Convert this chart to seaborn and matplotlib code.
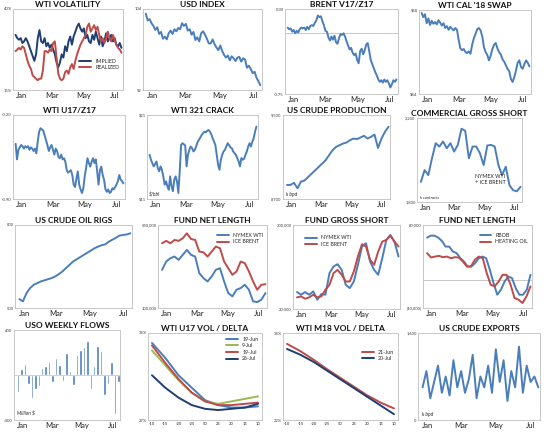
import numpy as np
import pandas as pd
import seaborn as sns
import matplotlib.pyplot as plt
import matplotlib.dates as mdates
from matplotlib.ticker import FuncFormatter

sns.set_style("white")
plt.rcParams['font.family'] = ['Lato', 'DejaVu Sans']

BLUE = "#4A7EBB"
RED = "#BE4B48"
NAVY = "#1F3F73"
GREEN = "#98B954"

# ---------------- data ----------------
wti_implied = [32, 31, 30.5, 31, 29.5, 30, 31, 30, 28.5,
               27, 25.5, 24, 26, 31, 33.5, 30, 29.5,
               31, 28.5, 29.5, 28, 29, 27.5, 26, 23.5,
               22, 23.5, 26, 25, 28.5, 27, 30, 31.5,
               29, 31.5, 33, 34.5, 35.5, 34, 33,
               34, 31, 32, 30, 29.5, 32, 30.5, 33,
               31, 29, 31.5, 28.5, 30, 32.5, 30, 31,
               32, 30, 31, 29, 28.5, 29.5, 28]
wti_realized = [27, 27.5, 28, 27.5, 28.5, 28, 26, 24, 22.5,
                21.5, 19.5, 19, 18.5, 18, 18.5, 18.5, 21,
                27, 27, 26.5, 27.5, 27, 29.5, 30, 25,
                20, 18.5, 18, 18.5, 20.5, 21, 20, 22,
                23, 21.5, 24, 26, 27.5, 29, 30,
                31, 32, 34.5, 35.5, 33, 34, 35, 33.5,
                34.5, 32, 30, 31, 29.5, 31, 33, 31,
                30, 32, 30.5, 29, 28, 27.5, 26.5]

usd_index = [103.3, 102.3, 102.5, 101.9, 101.5, 100.9, 101.3, 100.3, 100.6, 99.6,
             99.9, 99.5, 100.4, 100.8, 100.3, 101, 100.7, 101.2, 101, 101.9,
             101.5, 101.8, 100.8, 101, 100.2, 100.6, 99.4, 99.8, 99.2, 100.4,
             100.7, 100.2, 99.6, 98.9, 98.9, 99.5, 98.8, 98.3, 97.9, 98.6,
             97.8, 97.2, 96.8, 97.1, 96.4, 97, 96.7, 96.3, 96.8, 96.9,
             96.2, 96.7, 96.5, 95.3, 95.6, 95.1, 94.5, 94.7, 93.8, 93.3, 92.7]

brent_spread = [0.07, 0.05, 0.06, 0.02, 0.04, 0.0, 0.03, 0.01, 0.05, 0.07, 0.06, 0.07,
                0.04, 0.08, 0.05, 0.09, 0.10, 0.09, 0.13, 0.16, 0.22, 0.20, 0.21, 0.15,
                0.10, 0.03, 0.02, -0.05, -0.09, -0.04, -0.08, -0.03, -0.11, -0.13, -0.06,
                -0.01, -0.02, 0.0, -0.04, -0.10, -0.15, -0.20, -0.18, -0.24, -0.27, -0.25,
                -0.33, -0.37, -0.22, -0.19, -0.26, -0.21, -0.14, -0.12, -0.22, -0.33, -0.38,
                -0.43, -0.48, -0.52, -0.57, -0.60, -0.58, -0.61, -0.57, -0.60, -0.58, -0.62,
                -0.67, -0.63, -0.58, -0.60, -0.57]

cal18_swap = [57.5, 56.8, 57.3, 55.8, 56.6, 55.5, 56.2, 55.7, 56.0, 55.6, 56.3, 55.9,
              55.4, 55.8, 55.0, 55.3, 54.7, 55.2, 54.9, 54.6, 55.0, 54.7, 53.0, 51.6,
              51.3, 51.5, 51.0, 50.8, 51.1, 50.7, 52.2, 53.3, 54.0, 54.8, 55.0, 54.6,
              53.6, 51.8, 51.0, 50.5, 49.6, 50.4, 51.5, 52.2, 52.5, 51.6, 51.0, 50.6,
              49.8, 49.4, 48.8, 48.2, 47.8, 46.5, 46.0, 46.8, 47.9, 49.2, 49.6, 48.5,
              48.2, 49.0, 49.6, 49.2, 48.6]

wti_u17z17 = [-0.44, -0.57, -0.49, -0.47, -0.45, -0.46, -0.48, -0.46, -0.47, -0.46,
              -0.49, -0.47, -0.48, -0.50, -0.48, -0.52, -0.42, -0.34, -0.31, -0.32,
              -0.33, -0.37, -0.41, -0.45, -0.50, -0.47, -0.45, -0.49, -0.53, -0.48,
              -0.50, -0.55, -0.56, -0.53, -0.57, -0.56, -0.59, -0.66, -0.68, -0.67,
              -0.66, -0.70, -0.78, -0.80, -0.73, -0.67, -0.78, -0.82, -0.85, -0.81,
              -0.71, -0.64, -0.56, -0.60, -0.63, -0.59, -0.56, -0.60, -0.57, -0.67,
              -0.78, -0.66, -0.63, -0.70, -0.74, -0.82, -0.84, -0.82, -0.85, -0.84,
              -0.81, -0.82, -0.80, -0.78, -0.75, -0.70, -0.74, -0.75, -0.77]

wti_crack = [16.26, 15.67, 15.27, 14.88, 15.15, 15.47, 14.68, 14.29, 14.88, 14.48,
             13.69, 12.70, 13.10, 12.51, 12.11, 13.69, 12.51, 11.92, 13.30, 13.69,
             13.10, 11.72, 14.29, 17.44, 17.64, 17.52, 17.37, 14.88, 16.26, 16.85,
             17.25, 17.05, 16.66, 16.85, 17.25, 17.76, 18.04, 18.31, 18.63, 18.83,
             19.02, 18.94, 19.10, 19.22, 19.02, 18.71, 18.24, 17.84, 17.44, 16.26,
             15.07, 14.48, 15.67, 16.26, 16.66, 16.85, 17.25, 17.64, 17.44, 17.13,
             17.05, 16.66, 16.46, 16.26, 15.87, 15.47, 14.88, 15.87, 15.67, 15.79,
             16.26, 16.66, 17.25, 17.64, 17.25, 17.84, 18.24, 19.02, 19.62]

us_production = [8834, 8834, 8854, 8802, 8866, 8876, 8908, 8940, 8972, 9004,
                 9036, 9068, 9116, 9164, 9196, 9212, 9228, 9238, 9260, 9276,
                 9270, 9286, 9302, 9276, 9292, 9314, 9186, 9276, 9340, 9388]

comm_gross_short = [1896, 1952, 1928, 2008, 2080, 2064, 2088, 2056, 2080, 2040,
                    2072, 2149, 2139, 2008, 2064, 2064, 2032, 1976, 2069, 2072,
                    2064, 1976, 1928, 1968, 1880, 1856, 1851, 1872]

oil_rigs = [532, 524, 554, 572, 584, 590, 596, 600, 604, 608, 614, 622, 632, 644, 656, 668,
            676, 684, 692, 700, 708, 716, 722, 727, 730, 740, 747, 754, 762, 764, 766, 770]

net_wti = [307000, 352000, 370000, 379000, 361000, 388000, 415000, 388000, 379000, 289000,
           262000, 244000, 271000, 307000, 316000, 244000, 181000, 163000, 199000, 208000,
           226000, 199000, 136000, 132000, 145000, 181000]
net_brent = [451000, 464000, 451000, 469000, 464000, 478000, 505000, 474000, 469000, 406000,
             402000, 379000, 406000, 433000, 424000, 352000, 316000, 280000, 298000, 352000,
             343000, 298000, 244000, 199000, 226000, 229000]

short_wti = [56300, 50600, 56300, 50600, 57700, 39900, 52000, 50600, 96800, 111100,
             116000, 104000, 71900, 64800, 79000, 114600, 153800, 160900, 121700, 103900,
             93300, 128800, 168000, 178700, 164400, 132400]
short_brent = [44900, 47000, 42000, 44900, 50600, 44900, 47000, 61300, 71900, 96800,
               103900, 93300, 79000, 79000, 100400, 132400, 158700, 153800, 125300, 114600,
               143100, 164400, 168000, 177200, 164400, 153800]

net_rbob = [61800, 64600, 64600, 61800, 57000, 48800, 48800, 41600, 39200, 32000,
            27200, 20000, 20000, 24800, 32000, 34400, 32000, 15200, -4000, -20800,
            -13600, -1600, 5600, 3200, -11200, -20800, -20800, -13600, 8000]
net_ho = [39200, 33000, 34400, 35400, 33400, 34400, 32000, 33400, 33000, 27200,
          20000, 20000, 29600, 34400, 32000, 10400, -6400, -8800, -1600, 8000,
          8000, -6400, -25600, -28000, -32800, -23200, -8800]

uso_flows = [-150, 50, 100, -80, -200, -120, -100, 60, 80, 120, -60, 150, 90, -50, 200,
             40, -90, 180, 220, 250, 300, -120, 80, 260, 210, -180, -80, 120, -350, -60]

delta_labels = ["-10", "-15", "-20", "-25", "50", "25", "20", "15", "10"]
u17_19jun = [33.2, 32.0, 30.6, 29.6, 28.6, 28.2, 28.0, 28.0, 28.1]
u17_9jul = [32.6, 31.4, 30.2, 29.2, 28.5, 28.3, 28.5, 28.7, 28.9]
u17_19jul = [33.0, 31.6, 30.3, 29.2, 28.5, 28.2, 28.2, 28.3, 28.4]
u17_26jul = [30.6, 29.6, 28.8, 28.2, 27.9, 27.8, 27.9, 28.0, 28.3]

m18_labels = ["-10", "-15", "-20", "-25", "50", "25", "20", "15", "10"]
m18_21jun = [32.5, 31.5, 30.3, 29.0, 27.8, 26.6, 25.4, 24.4, 23.6]
m18_20jul = [31.8, 31.0, 30.0, 28.8, 27.6, 26.4, 25.2, 24.0, 22.8]

crude_exports = [600, 900, 400, 700, 1000, 500, 800, 450, 1100, 600, 900, 500, 750, 1200,
                 400, 800, 600, 1000, 500, 1300, 700, 1100, 350, 900, 600, 1350, 500, 1000,
                 700, 800, 600]

# ---------------- figure ----------------
W, H = 550, 436
fig = plt.figure(figsize=(W / 100, H / 100), dpi=100)
fig.patch.set_facecolor("white")


def add_panel(x0, y0, x1, y1):
    return fig.add_axes([x0 / W, 1 - y1 / H, (x1 - x0) / W, (y1 - y0) / H])


def style(ax, title, ylo, yhi, fmt):
    ax.set_ylim(ylo, yhi)
    ax.set_yticks([ylo, yhi])
    ax.yaxis.set_major_formatter(FuncFormatter(lambda v, p: fmt(v)))
    ax.tick_params(axis="y", labelsize=3, length=0, pad=1, colors="#404040")
    ax.tick_params(axis="x", labelsize=5.5, length=0, pad=1.5, colors="#222222")
    for s in ax.spines.values():
        s.set_color("#BFBFBF")
        s.set_linewidth(0.6)
    ax.set_xlabel("")
    ax.set_ylabel("")
    ax.set_title(title, fontsize=6, fontweight="bold", pad=1.5, color="#111111")
    if ax.get_legend() is not None:
        ax.get_legend().remove()


def date_axis(ax, start="2016-12-29", end="2017-07-31"):
    ax.set_xlim(pd.Timestamp(start), pd.Timestamp(end))
    ax.xaxis.set_major_locator(mdates.MonthLocator(bymonth=[1, 3, 5, 7], bymonthday=15))
    ax.xaxis.set_major_formatter(mdates.DateFormatter("%b"))


def days(n):
    return pd.date_range("2017-01-03", "2017-07-28", periods=n)


def weeks(n):
    return pd.date_range("2017-01-06", "2017-07-28", periods=n)


def line(ax, x, y, color, lw=1.4, label=None):
    sns.lineplot(x=x, y=y, ax=ax, color=color, linewidth=lw, label=label)


def legend(ax, loc, bbox):
    ax.legend(loc=loc, bbox_to_anchor=bbox, frameon=False, fontsize=3.8,
              handlelength=2.2, labelspacing=0.3, borderpad=0.2)


pct = lambda v: f"{v:.0f}%"
dollar = lambda v: f"${v:.0f}"
num = lambda v: f"{v:,.0f}" if v >= 0 else f"({-v:,.0f})"

# row 1
ax = add_panel(13, 9, 123, 90)
line(ax, days(len(wti_implied)), wti_implied, NAVY, label="IMPLIED")
line(ax, days(len(wti_realized)), wti_realized, RED, label="REALIZED")
date_axis(ax)
style(ax, "WTI VOLATILITY", 15, 40, pct)
legend(ax, "lower right", (1.0, 0.2))

ax = add_panel(143, 9, 262, 90)
line(ax, days(len(usd_index)), usd_index, BLUE)
date_axis(ax)
style(ax, "USD INDEX", 92, 104, lambda v: f"{v:.0f}")

ax = add_panel(285, 9, 398, 94)
ax.axhline(0, color="#BFBFBF", lw=0.6)
line(ax, days(len(brent_spread)), brent_spread, BLUE)
date_axis(ax)
style(ax, "BRENT V17/Z17", -0.75, 0.30, lambda v: f"{v:.2f}")

ax = add_panel(419, 10, 531, 94)
line(ax, days(len(cal18_swap)), cal18_swap, BLUE)
date_axis(ax)
style(ax, "WTI CAL '18 SWAP", 44, 58, dollar)

# row 2
ax = add_panel(13, 115, 125, 199)
line(ax, days(len(wti_u17z17)), wti_u17z17, BLUE)
date_axis(ax)
style(ax, "WTI U17/Z17", -0.90, -0.20, lambda v: f"{v:.2f}")

ax = add_panel(147, 115, 258, 199)
line(ax, days(len(wti_crack)), wti_crack, BLUE)
date_axis(ax)
style(ax, "WTI 321 CRACK", 11, 21, dollar)
ax.text(0.02, 0.04, "$/bbl", transform=ax.transAxes, fontsize=3.5, style="italic")

ax = add_panel(283, 115, 390, 199)
line(ax, weeks(len(us_production)), us_production, BLUE)
date_axis(ax)
style(ax, "US CRUDE PRODUCTION", 8700, 9500, num)
ax.text(0.03, 0.04, "k bpd", transform=ax.transAxes, fontsize=3.5, style="italic")

ax = add_panel(417, 118, 522, 202)
line(ax, weeks(len(comm_gross_short)), comm_gross_short, BLUE)
date_axis(ax)
style(ax, "COMMERCIAL GROSS SHORT", 1800, 2200, num)
ax.text(0.03, 0.04, "k contracts", transform=ax.transAxes, fontsize=3, style="italic")
ax.text(0.55, 0.22, "NYMEX WTI\n+ ICE BRENT", transform=ax.transAxes, fontsize=3.8)

# row 3
ax = add_panel(15, 225, 132, 308)
line(ax, weeks(len(oil_rigs)), oil_rigs, BLUE)
date_axis(ax)
style(ax, "US CRUDE OIL RIGS", 500, 800, num)

ax = add_panel(158, 225, 267, 308)
line(ax, weeks(len(net_wti)), net_wti, BLUE, label="NYMEX WTI")
line(ax, weeks(len(net_brent)), net_brent, RED, label="ICE BRENT")
date_axis(ax)
style(ax, "FUND NET LENGTH", 100000, 550000, num)
legend(ax, "upper right", (1.0, 0.95))

ax = add_panel(293, 225, 400, 309)
line(ax, weeks(len(short_wti)), short_wti, BLUE, label="NYMEX WTI")
line(ax, weeks(len(short_brent)), short_brent, RED, label="ICE BRENT")
date_axis(ax)
style(ax, "FUND GROSS SHORT", 20000, 200000, num)
legend(ax, "upper left", (0.08, 0.92))

ax = add_panel(423, 225, 532, 308)
ax.axhline(0, color="#BFBFBF", lw=0.6)
line(ax, weeks(len(net_rbob)), net_rbob, BLUE, label="RBOB")
line(ax, weeks(len(net_ho)), net_ho, RED, label="HEATING OIL")
date_axis(ax)
style(ax, "FUND NET LENGTH", -40000, 80000, num)
legend(ax, "upper right", (1.0, 0.95))

# row 4
ax = add_panel(14, 330, 120, 420)
uso = pd.DataFrame({"week": weeks(len(uso_flows)), "flow": uso_flows})
ax.bar(uso["week"], uso["flow"], width=5, color=BLUE)
date_axis(ax)
style(ax, "USO WEEKLY FLOWS", -400, 400, lambda v: f"{v:.0f}")
ax.axhline(0, color="#BFBFBF", lw=0.5)
ax.text(0.03, 0.06, "Million $", transform=ax.transAxes, fontsize=3.5, style="italic")

ax = add_panel(148, 333, 262, 420)
xs = np.arange(len(delta_labels))
line(ax, xs, u17_19jun, BLUE, label="19-Jun")
line(ax, xs, u17_9jul, GREEN, label="9-Jul")
line(ax, xs, u17_19jul, RED, label="19-Jul")
line(ax, xs, u17_26jul, NAVY, label="26-Jul")
ax.set_xticks(xs)
ax.set_xticklabels(delta_labels)
ax.set_xlim(-0.3, len(xs) - 0.7)
style(ax, "WTI U17 VOL / DELTA", 27, 34, pct)
ax.tick_params(axis="x", labelsize=3)
legend(ax, "upper right", (1.0, 1.0))

ax = add_panel(283, 333, 398, 420)
xs = np.arange(len(m18_labels))
line(ax, xs, m18_21jun, RED, label="21-Jun")
line(ax, xs, m18_20jul, NAVY, label="20-Jul")
ax.set_xticks(xs)
ax.set_xticklabels(m18_labels)
ax.set_xlim(-0.3, len(xs) - 0.7)
style(ax, "WTI M18 VOL / DELTA", 22, 34, pct)
ax.tick_params(axis="x", labelsize=3)
legend(ax, "upper right", (1.0, 0.85))

ax = add_panel(418, 333, 540, 420)
line(ax, weeks(len(crude_exports)), crude_exports, BLUE)
date_axis(ax)
style(ax, "US CRUDE EXPORTS", 0, 1600, num)
ax.text(0.03, 0.05, "k bpd", transform=ax.transAxes, fontsize=3.5, style="italic")

fig.savefig("out.png", dpi=100, facecolor="white")
